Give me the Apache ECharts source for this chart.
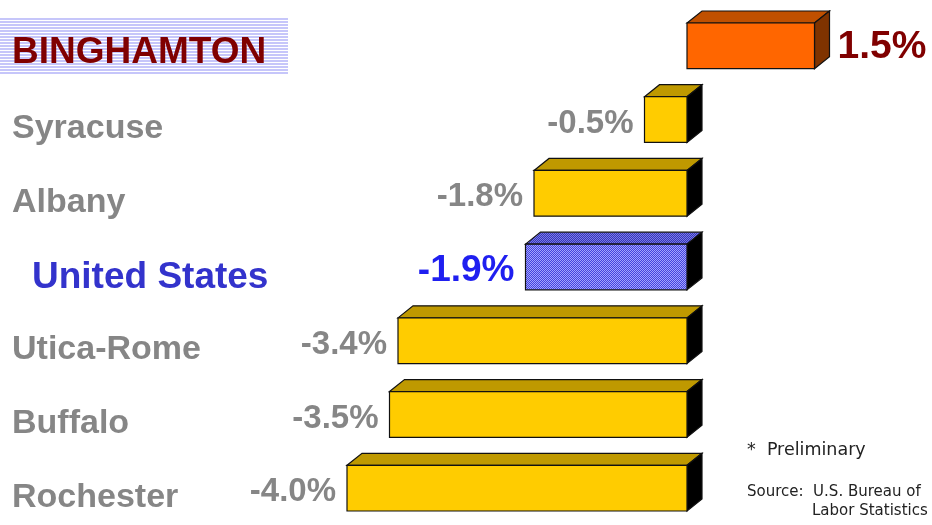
<!DOCTYPE html>
<html>
<head>
<meta charset="utf-8">
<script src="https://cdn.jsdelivr.net/npm/echarts@6/dist/echarts.min.js"></script>
<style>
  html, body { margin: 0; padding: 0; background: #fff; }
  #chart { width: 932px; height: 525px; }
</style>
</head>
<body>
<div id="chart"></div>
<script>
// job growth, percent change
const categories = ['BINGHAMTON', 'Syracuse', 'Albany', 'United States', 'Utica-Rome', 'Buffalo', 'Rochester'];
const changes = [1.5, -0.5, -1.8, -1.9, -3.4, -3.5, -4.0];
const kinds = ['home', 'peer', 'peer', 'nation', 'peer', 'peer', 'peer'];
const notes = ['*  Preliminary', 'Source:  U.S. Bureau of', 'Labor Statistics'];

const FONT = '"Liberation Sans", Arial, sans-serif';

function makePattern(w, h, draw) {
  const c = document.createElement('canvas');
  c.width = w; c.height = h;
  draw(c.getContext('2d'));
  return { image: c, repeat: 'repeat' };
}

const stripes = makePattern(4, 3, function (ctx) {
  ctx.fillStyle = '#ffffff'; ctx.fillRect(0, 0, 4, 3);
  ctx.fillStyle = '#c6c6fa'; ctx.fillRect(0, 0, 4, 2);
});
const checker = function (a, b) {
  return makePattern(2, 2, function (ctx) {
    ctx.fillStyle = a; ctx.fillRect(0, 0, 2, 2);
    ctx.fillStyle = b; ctx.fillRect(0, 0, 1, 1); ctx.fillRect(1, 1, 1, 1);
  });
};

const looks = {
  home:   { front: '#ff6600', top: '#c05000', side: '#7f3300', label: '#800000', size: 39 },
  peer:   { front: '#ffcc00', top: '#bf9900', side: '#000000', label: '#868686', size: 33 },
  nation: { front: checker('#4444dd', '#a4a4ff'), top: checker('#3636b8', '#7a7ae8'), side: '#000000', label: '#1f1ff0', size: 37 }
};

const chart = echarts.init(document.getElementById('chart'));

function renderItem(params, api) {
  const v = api.value(0);
  const idx = api.value(1);
  const look = looks[kinds[idx]];
  const p0 = api.coord([0, idx]);
  const p1 = api.coord([v, idx]);
  const h = api.size([0, 1])[1] * 0.62;
  const x0 = Math.min(p0[0], p1[0]), x1 = Math.max(p0[0], p1[0]);
  const y0 = p0[1] - h / 2, y1 = p0[1] + h / 2;
  const dx = 15, dy = -12;
  const line = { stroke: '#111', lineWidth: 1.2 };
  const label = v >= 0
    ? { x: x1 + 23, align: 'left' }
    : { x: x0 - 11, align: 'right' };
  return {
    type: 'group',
    children: [
      { type: 'polygon', shape: { points: [[x0, y0], [x0 + dx, y0 + dy], [x1 + dx, y0 + dy], [x1, y0]] },
        style: Object.assign({ fill: look.top }, line) },
      { type: 'polygon', shape: { points: [[x1, y0], [x1 + dx, y0 + dy], [x1 + dx, y1 + dy], [x1, y1]] },
        style: Object.assign({ fill: look.side }, line) },
      { type: 'rect', shape: { x: x0, y: y0, width: x1 - x0, height: h },
        style: Object.assign({ fill: look.front }, line) },
      { type: 'text', style: {
          text: v.toFixed(1) + '%', x: label.x, y: p0[1] + (v >= 0 ? 1 : 4), align: label.align, verticalAlign: 'middle',
          fill: look.label, font: 'bold ' + look.size + 'px ' + FONT } }
    ]
  };
}

chart.setOption({
  animation: false,
  grid: { left: 262, top: 9, width: 595, height: 518 },
  xAxis: { type: 'value', min: -5, max: 2, show: false },
  yAxis: {
    type: 'category', inverse: true, data: categories,
    axisLine: { show: false }, axisTick: { show: false }, splitLine: { show: false },
    axisLabel: {
      align: 'left', margin: 250,
      formatter: function (val, i) { return '{' + kinds[i] + '|' + val + '}'; },
      rich: {
        home:   { color: '#800000', fontSize: 37, fontWeight: 'bold', fontFamily: FONT, padding: [14, 0, 0, 0] },
        peer:   { color: '#868686', fontSize: 34, fontWeight: 'bold', fontFamily: FONT, padding: [18, 0, 0, 0] },
        nation: { color: '#3333cc', fontSize: 37, fontWeight: 'bold', fontFamily: FONT, padding: [22, 0, 0, 20] }
      }
    }
  },
  graphic: [
    { type: 'rect', left: 0, top: 18, z: -10, shape: { width: 288, height: 56 }, style: { fill: stripes } },
    { type: 'text', left: 747, top: 441, style: { text: notes[0], fill: '#222', font: '17.5px "DejaVu Sans", sans-serif' } },
    { type: 'text', left: 747, top: 485, style: { text: notes[1], fill: '#222', font: '15px "DejaVu Sans", sans-serif' } },
    { type: 'text', left: 812, top: 504, style: { text: notes[2], fill: '#222', font: '15px "DejaVu Sans", sans-serif' } }
  ],
  series: [{
    type: 'custom',
    renderItem: renderItem,
    encode: { x: 0, y: 1 },
    data: changes.map(function (v, i) { return [v, i]; }),
    clip: false
  }]
});
</script>
</body>
</html>
